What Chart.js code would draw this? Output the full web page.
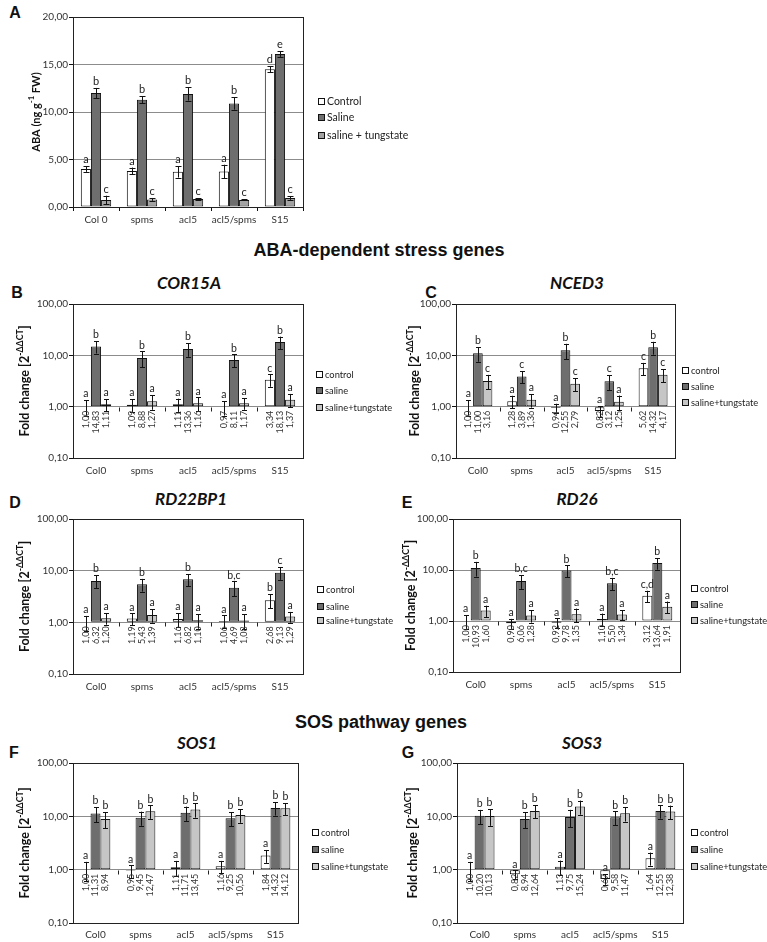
<!DOCTYPE html>
<html lang="en">
<head>
<meta charset="UTF-8">
<title>ABA content and stress gene expression</title>
<script src="https://cdn.jsdelivr.net/npm/chart.js"></script>
<style>
    body {
        margin: 0;
        background: #fff;
        width: 767px;
        height: 942px;
        position: relative;
        overflow: hidden;
        font-family: Lato, 'DejaVu Sans', sans-serif;
    }
    canvas { position: absolute; }
    .tag, .head, .gene {
        position: absolute;
        transform: translate(-50%, -50%);
        line-height: 1;
        white-space: nowrap;
        color: #111;
    }
    .tag { font: bold 16px 'Liberation Sans', Arial, sans-serif; }
    .head { font: bold 18px 'Liberation Sans', Arial, sans-serif; }
    .gene { font: italic bold 17px Lato, sans-serif; }
</style>
</head>
<body>

<div class="tag" style="left:15px;top:13px">A</div>
<div class="head" style="left:379px;top:250px">ABA-dependent stress genes</div>
<div class="tag" style="left:17px;top:293px">B</div>
<div class="gene" style="left:189px;top:282px">COR15A</div>
<div class="tag" style="left:431px;top:293px">C</div>
<div class="gene" style="left:577px;top:282px">NCED3</div>
<div class="tag" style="left:15px;top:503px">D</div>
<div class="gene" style="left:191px;top:498px">RD22BP1</div>
<div class="tag" style="left:407px;top:503px">E</div>
<div class="gene" style="left:577px;top:498px">RD26</div>
<div class="head" style="left:381px;top:722px">SOS pathway genes</div>
<div class="tag" style="left:14px;top:753px">F</div>
<div class="gene" style="left:197px;top:742px">SOS1</div>
<div class="tag" style="left:408px;top:753px">G</div>
<div class="gene" style="left:582px;top:742px">SOS3</div>

<script>
    // categories
    const categoriesA = ['Col 0', 'spms', 'acl5', 'acl5/spms', 'S15'];
    const categories = ['Col0', 'spms', 'acl5', 'acl5/spms', 'S15'];

    // A - ABA content (ng/g FW)
    const abaControl = [4.0, 3.8, 3.7, 3.75, 14.5];
    const abaControlErr = [0.3, 0.35, 0.6, 0.7, 0.3];
    const abaControlLetters = ['a', 'a', 'a', 'a', 'd'];
    const abaSaline = [12.0, 11.3, 11.9, 10.9, 16.1];
    const abaSalineErr = [0.53, 0.35, 0.7, 0.65, 0.3];
    const abaSalineLetters = ['b', 'b', 'b', 'b', 'e'];
    const abaTung = [0.74, 0.8, 0.85, 0.75, 0.95];
    const abaTungErr = [0.45, 0.15, 0.07, 0.06, 0.2];
    const abaTungLetters = ['c', 'c', 'c', 'c', 'c'];
    const abaTicks = [0, 5, 10, 15, 20];

    // B - COR15A
    const cor15aControl = [1.00, 1.09, 1.11, 0.97, 3.34];
    const cor15aControlErr = [0.33, 0.3, 0.32, 0.3, 0.9];
    const cor15aControlLetters = ['a', 'a', 'a', 'a', 'c'];
    const cor15aSaline = [14.83, 8.88, 13.36, 8.11, 18.13];
    const cor15aSalineErr = [4, 3, 4, 2.3, 5];
    const cor15aSalineLetters = ['b', 'b', 'b', 'b', 'b'];
    const cor15aTung = [1.11, 1.27, 1.16, 1.17, 1.37];
    const cor15aTungErr = [0.3, 0.4, 0.35, 0.3, 0.4];
    const cor15aTungLetters = ['a', 'a', 'a', 'a', 'a'];

    // C - NCED3
    const nced3Control = [1.00, 1.28, 0.94, 0.82, 5.62];
    const nced3ControlErr = [0.33, 0.35, 0.2, 0.2, 1.5];
    const nced3ControlLetters = ['a', 'a', 'a', 'a', 'c'];
    const nced3Saline = [11.00, 3.89, 12.55, 3.12, 14.32];
    const nced3SalineErr = [3.5, 1.0, 4.2, 1.0, 4];
    const nced3SalineLetters = ['b', 'c', 'b', 'c', 'b'];
    const nced3Tung = [3.16, 1.36, 2.79, 1.25, 4.17];
    const nced3TungErr = [1.0, 0.4, 0.8, 0.4, 1.2];
    const nced3TungLetters = ['c', 'a', 'c', 'a', 'c'];

    // D - RD22BP1
    const rd22Control = [1.00, 1.19, 1.16, 1.06, 2.68];
    const rd22ControlErr = [0.33, 0.3, 0.35, 0.3, 0.8];
    const rd22ControlLetters = ['a', 'a', 'a', 'a', 'b'];
    const rd22Saline = [6.32, 5.43, 6.82, 4.69, 9.13];
    const rd22SalineErr = [1.8, 1.5, 1.8, 1.5, 2.5];
    const rd22SalineLetters = ['b', 'b', 'b', 'b,c', 'c'];
    const rd22Tung = [1.20, 1.39, 1.10, 1.08, 1.29];
    const rd22TungErr = [0.3, 0.4, 0.35, 0.35, 0.3];
    const rd22TungLetters = ['a', 'a', 'a', 'a', 'a'];

    // E - RD26
    const rd26Control = [1.00, 0.90, 0.92, 1.10, 3.12];
    const rd26ControlErr = [0.3, 0.2, 0.2, 0.3, 0.8];
    const rd26ControlLetters = ['a', 'a', 'a', 'a', 'c,d'];
    const rd26Saline = [10.93, 6.06, 9.78, 5.50, 13.64];
    const rd26SalineErr = [3.5, 1.8, 2.5, 1.5, 3.5];
    const rd26SalineLetters = ['b', 'b,c', 'b', 'b,c', 'b'];
    const rd26Tung = [1.60, 1.28, 1.35, 1.34, 1.91];
    const rd26TungErr = [0.4, 0.35, 0.4, 0.3, 0.5];
    const rd26TungLetters = ['a', 'a', 'a', 'a', 'a'];

    // F - SOS1
    const sos1Control = [1.00, 0.95, 1.11, 1.16, 1.84];
    const sos1ControlErr = [0.4, 0.25, 0.35, 0.3, 0.5];
    const sos1ControlLetters = ['a', 'a', 'a', 'a', 'a'];
    const sos1Saline = [11.31, 9.45, 11.71, 9.25, 14.32];
    const sos1SalineErr = [3.5, 2.8, 3.5, 2.8, 4];
    const sos1SalineLetters = ['b', 'b', 'b', 'b', 'b'];
    const sos1Tung = [8.94, 12.47, 13.45, 10.56, 14.12];
    const sos1TungErr = [3, 3.5, 4, 3, 3.5];
    const sos1TungLetters = ['b', 'b', 'b', 'b', 'b'];

    // G - SOS3
    const sos3Control = [1.00, 0.82, 1.13, 0.67, 1.64];
    const sos3ControlErr = [0.4, 0.15, 0.35, 0.15, 0.45];
    const sos3ControlLetters = ['a', 'a', 'a', 'a', 'a'];
    const sos3Saline = [10.20, 8.94, 9.75, 9.58, 12.55];
    const sos3SalineErr = [3, 3, 3.5, 2.8, 3.5];
    const sos3SalineLetters = ['b', 'b', 'b', 'b', 'b'];
    const sos3Tung = [10.13, 12.64, 15.24, 11.47, 12.38];
    const sos3TungErr = [3.5, 3.5, 4.5, 3.5, 3.5];
    const sos3TungLetters = ['b', 'b', 'b', 'b', 'b'];

    const logTicks = [0.1, 1, 10, 100];
    const legendA = ['Control', 'Saline', 'saline + tungstate'];
    const legendLog = ['control', 'saline', 'saline+tungstate'];

    const fmt = v => v.toFixed(2).replace('.', ',');
    const FONT = "Lato, 'DejaVu Sans', sans-serif";

    function drawYTitle(ctx, cx, cy, parts, size) {
        ctx.save();
        ctx.translate(cx, cy);
        ctx.rotate(-Math.PI / 2);
        ctx.fillStyle = '#111';
        ctx.textBaseline = 'middle';
        ctx.textAlign = 'left';
        const mainF = 'bold ' + size + 'px ' + FONT, supF = 'bold ' + (size * 0.7) + 'px ' + FONT;
        let total = 0;
        parts.forEach(pt => { ctx.font = pt.sup ? supF : mainF; total += ctx.measureText(pt.t).width; });
        let x = -total / 2;
        parts.forEach(pt => {
            ctx.font = pt.sup ? supF : mainF;
            ctx.fillText(pt.t, x, pt.sup ? -size * 0.38 : 0);
            x += ctx.measureText(pt.t).width;
        });
        ctx.restore();
    }

    function panelPlugin(p) {
        return {
            id: 'panel',
            afterDraw(chart) {
                const ctx = chart.ctx, a = chart.chartArea, ys = chart.scales.y, xs = chart.scales.x;
                ctx.save();
                // plot frame
                ctx.strokeStyle = '#222';
                ctx.lineWidth = 1;
                ctx.strokeRect(Math.round(a.left) + 0.5, Math.round(a.top) + 0.5,
                    Math.round(a.right - a.left), Math.round(a.bottom - a.top));

                // category dividers on the 1,00 line
                if (p.log) {
                    const y1 = Math.round(ys.getPixelForValue(1)) + 0.5;
                    ctx.beginPath();
                    for (let i = 1; i < p.labels.length; i++) {
                        const bx = Math.round((xs.getPixelForValue(i - 1) + xs.getPixelForValue(i)) / 2) + 0.5;
                        ctx.moveTo(bx, y1);
                        ctx.lineTo(bx, y1 + 4);
                    }
                    ctx.strokeStyle = '#222';
                    ctx.stroke();
                }

                chart.data.datasets.forEach((ds, di) => {
                    const s = p.series[di];
                    chart.getDatasetMeta(di).data.forEach((bar, i) => {
                        const v = ds.data[i], e = s.err[i];
                        const hi = ys.getPixelForValue(v + e);
                        const lo = ys.getPixelForValue(Math.max(v - e, p.log ? 0.12 : 0));
                        const x = Math.round(bar.x) + 0.5;
                        // error bar
                        ctx.beginPath();
                        ctx.strokeStyle = '#111';
                        ctx.moveTo(x, hi); ctx.lineTo(x, lo);
                        ctx.moveTo(x - p.cap, Math.round(hi) + 0.5); ctx.lineTo(x + p.cap, Math.round(hi) + 0.5);
                        ctx.moveTo(x - p.cap, Math.round(lo) + 0.5); ctx.lineTo(x + p.cap, Math.round(lo) + 0.5);
                        ctx.stroke();
                        // significance letter
                        ctx.fillStyle = '#222';
                        ctx.font = p.letterFont;
                        ctx.textAlign = 'center';
                        ctx.textBaseline = 'bottom';
                        ctx.fillText(s.letters[i], bar.x, hi - 1);
                        // value under the axis
                        if (p.log) {
                            ctx.save();
                            ctx.translate(bar.x, ys.getPixelForValue(1) + 4);
                            ctx.rotate(-Math.PI / 2);
                            ctx.font = '9px ' + FONT;
                            ctx.fillStyle = '#333';
                            ctx.textAlign = 'right';
                            ctx.textBaseline = 'middle';
                            ctx.fillText(fmt(v), 0, 0);
                            ctx.restore();
                        }
                    });
                });

                // legend
                p.series.forEach((s, i) => {
                    const ry = p.legRows[i] - p.T;
                    const lx = p.legX - p.L;
                    ctx.fillStyle = s.color;
                    ctx.fillRect(lx + 0.5, ry - 3.5, 6, 6);
                    ctx.strokeStyle = '#111';
                    ctx.strokeRect(lx + 0.5, ry - 3.5, 6, 6);
                    ctx.fillStyle = '#222';
                    ctx.font = p.legFont;
                    ctx.textAlign = 'left';
                    ctx.textBaseline = 'middle';
                    ctx.fillText(s.name, lx + 9, ry);
                });

                drawYTitle(ctx, p.titleX - p.L, (a.top + a.bottom) / 2, p.yTitle, p.titleSize);
                ctx.restore();
            }
        };
    }

    function makeChart(p) {
        const cv = document.createElement('canvas');
        cv.width = p.W; cv.height = p.H;
        cv.style.left = p.L + 'px';
        cv.style.top = p.T + 'px';
        document.body.appendChild(cv);

        const yScale = p.log ? {
            type: 'logarithmic', min: 0.1, max: 100,
            afterBuildTicks: ax => { ax.ticks = logTicks.map(v => ({ value: v })); }
        } : {
            type: 'linear', min: abaTicks[0], max: abaTicks[abaTicks.length - 1],
            afterBuildTicks: ax => { ax.ticks = abaTicks.map(v => ({ value: v })); }
        };

        new Chart(cv, {
            type: 'bar',
            data: {
                labels: p.labels,
                datasets: p.series.map(s => {
                    const d = {
                        label: s.name, data: s.values, backgroundColor: s.color,
                        borderColor: '#111', borderWidth: 1, borderSkipped: false,
                        categoryPercentage: 0.66, barPercentage: 1
                    };
                    if (p.log) d.base = 1;
                    return d;
                })
            },
            options: {
                responsive: false,
                animation: false,
                events: [],
                layout: {
                    padding: {
                        left: 0, top: p.y0 - p.T,
                        right: p.L + p.W - p.x1,
                        bottom: p.T + p.H - p.y1 - p.xH
                    }
                },
                plugins: { legend: { display: false }, tooltip: { enabled: false } },
                scales: {
                    x: {
                        grid: { display: true, drawOnChartArea: false, drawTicks: !p.log, tickLength: 4, color: '#111' },
                        border: { color: '#111' },
                        ticks: {
                            padding: p.xPad, color: '#333', font: { family: FONT, size: 10 },
                            maxRotation: 0, minRotation: 0, autoSkip: false
                        },
                        afterFit: sc => { sc.height = p.xH; }
                    },
                    y: Object.assign(yScale, {
                        grid: {
                            color: c => (c.tick && (c.index === 0 || c.index === c.chart.scales.y.ticks.length - 1)) ? 'rgba(0,0,0,0)' : '#8c8c8c',
                            tickColor: '#111', tickLength: 4, drawTicks: true
                        },
                        border: { color: '#111' },
                        ticks: { padding: 1, color: '#333', font: { family: FONT, size: 10 }, callback: v => fmt(v) },
                        afterFit: sc => { sc.width = p.x0 - p.L; }
                    })
                }
            },
            plugins: [panelPlugin(p)]
        });
    }

    function logSeries(c, ce, cl, s, se, sl, t, te, tl) {
        return [
            { name: legendLog[0], values: c, err: ce, letters: cl, color: '#ffffff' },
            { name: legendLog[1], values: s, err: se, letters: sl, color: '#6e6e6e' },
            { name: legendLog[2], values: t, err: te, letters: tl, color: '#c6c6c6' }
        ];
    }

    const foldTitle = [{ t: 'Fold change [2' }, { t: '-ΔΔCT', sup: true }, { t: ']' }];

    // A
    makeChart({
        L: 0, T: 0, W: 420, H: 232, x0: 73, x1: 303, y0: 17, y1: 207, xH: 20, xPad: 3,
        log: false, labels: categoriesA, cap: 3, letterFont: '11px ' + FONT, legFont: '10.5px ' + FONT,
        legX: 318, legRows: [102, 118, 136], titleX: 36, titleSize: 11,
        yTitle: [{ t: 'ABA (ng g' }, { t: '-1', sup: true }, { t: ' FW)' }],
        series: [
            { name: legendA[0], values: abaControl, err: abaControlErr, letters: abaControlLetters, color: '#ffffff' },
            { name: legendA[1], values: abaSaline, err: abaSalineErr, letters: abaSalineLetters, color: '#6e6e6e' },
            { name: legendA[2], values: abaTung, err: abaTungErr, letters: abaTungLetters, color: '#a3a3a3' }
        ]
    });

    const logBase = {
        log: true, labels: categories, cap: 2.5, letterFont: '10.5px ' + FONT, legFont: '9.3px ' + FONT,
        xH: 22, xPad: 7, yTitle: foldTitle, titleSize: 12.5
    };

    // B
    makeChart(Object.assign({}, logBase, {
        L: 0, T: 296, W: 400, H: 184, x0: 73, x1: 303, y0: 304, y1: 458,
        legX: 316, legRows: [375, 391, 408], titleX: 25,
        series: logSeries(cor15aControl, cor15aControlErr, cor15aControlLetters, cor15aSaline, cor15aSalineErr, cor15aSalineLetters, cor15aTung, cor15aTungErr, cor15aTungLetters)
    }));
    // C
    makeChart(Object.assign({}, logBase, {
        L: 380, T: 296, W: 387, H: 184, x0: 456, x1: 675, y0: 304, y1: 458,
        legX: 682, legRows: [371, 387, 403], titleX: 415,
        series: logSeries(nced3Control, nced3ControlErr, nced3ControlLetters, nced3Saline, nced3SalineErr, nced3SalineLetters, nced3Tung, nced3TungErr, nced3TungLetters)
    }));
    // D
    makeChart(Object.assign({}, logBase, {
        L: 0, T: 511, W: 400, H: 184, x0: 73, x1: 303, y0: 519, y1: 674,
        legX: 317, legRows: [590, 607, 621], titleX: 25,
        series: logSeries(rd22Control, rd22ControlErr, rd22ControlLetters, rd22Saline, rd22SalineErr, rd22SalineLetters, rd22Tung, rd22TungErr, rd22TungLetters)
    }));
    // E
    makeChart(Object.assign({}, logBase, {
        L: 380, T: 511, W: 387, H: 184, x0: 453, x1: 680, y0: 519, y1: 672,
        legX: 691, legRows: [589, 605, 621], titleX: 411,
        series: logSeries(rd26Control, rd26ControlErr, rd26ControlLetters, rd26Saline, rd26SalineErr, rd26SalineLetters, rd26Tung, rd26TungErr, rd26TungLetters)
    }));
    // F
    makeChart(Object.assign({}, logBase, {
        L: 0, T: 755, W: 400, H: 187, x0: 73, x1: 298, y0: 763, y1: 923, xH: 19, xPad: 6,
        legX: 312, legRows: [833, 850, 867], titleX: 25,
        series: logSeries(sos1Control, sos1ControlErr, sos1ControlLetters, sos1Saline, sos1SalineErr, sos1SalineLetters, sos1Tung, sos1TungErr, sos1TungLetters)
    }));
    // G
    makeChart(Object.assign({}, logBase, {
        L: 380, T: 755, W: 387, H: 187, x0: 457, x1: 683, y0: 763, y1: 923, xH: 19, xPad: 6,
        legX: 691, legRows: [833, 850, 867], titleX: 413,
        series: logSeries(sos3Control, sos3ControlErr, sos3ControlLetters, sos3Saline, sos3SalineErr, sos3SalineLetters, sos3Tung, sos3TungErr, sos3TungLetters)
    }));
</script>
</body>
</html>
